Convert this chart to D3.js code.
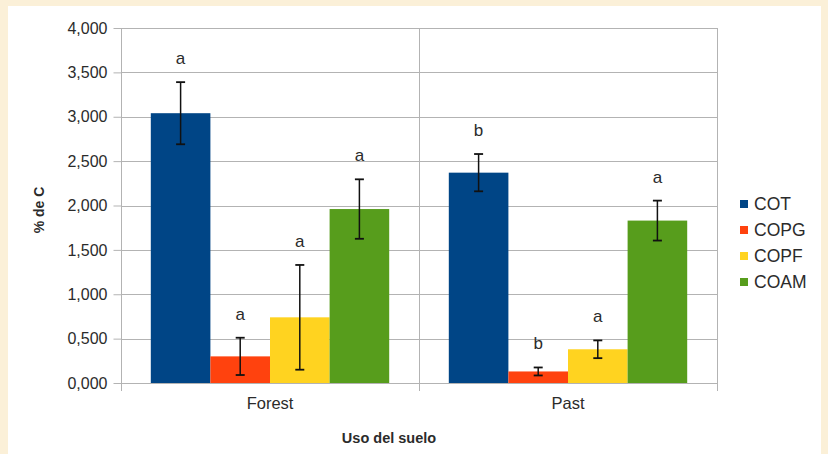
<!DOCTYPE html>
<html>
<head>
<meta charset="utf-8">
<script src="https://cdn.jsdelivr.net/npm/d3@7/dist/d3.min.js"></script>
<style>
  html, body { margin: 0; padding: 0; background: #fbf0d8; }
  svg { display: block; font-family: "Liberation Sans", Arial, sans-serif; }
</style>
</head>
<body>
<svg id="chart" width="828" height="454"></svg>
<script>
// Land use categories and carbon fractions
const categories = ["Forest", "Past"];
const series = ["COT", "COPG", "COPF", "COAM"];
const colors = ["#004586", "#ff420e", "#ffd320", "#579d1c"];

// Mean % C per category, in series order
const forestValues = [3.04, 0.30, 0.74, 1.96];
const pastValues = [2.37, 0.13, 0.38, 1.83];

// Error bar half-widths
const forestErrors = [0.35, 0.21, 0.59, 0.335];
const pastErrors = [0.21, 0.045, 0.10, 0.225];

// Significance letters
const forestLetters = ["a", "a", "a", "a"];
const pastLetters = ["b", "b", "a", "a"];

const yTicks = [0, 0.5, 1, 1.5, 2, 2.5, 3, 3.5, 4];

const rows = [
  { cat: categories[0], values: forestValues, errors: forestErrors, letters: forestLetters },
  { cat: categories[1], values: pastValues, errors: pastErrors, letters: pastLetters }
];

const svg = d3.select("#chart");
const textColor = "#2b2b2b";

// white panel
svg.append("rect").attr("x", 8).attr("y", 6).attr("width", 813).attr("height", 452)
  .attr("fill", "#ffffff");

const plot = { left: 121, right: 717, top: 28, bottom: 383 };

const x0 = d3.scaleBand().domain(categories).range([plot.left, plot.right]).paddingInner(0).paddingOuter(0);
const x1 = d3.scaleBand().domain(series).range([0, x0.bandwidth()]).paddingInner(0).paddingOuter(0.5);
const y = d3.scaleLinear().domain([0, 4]).range([plot.bottom, plot.top]);

const locale = d3.formatLocale({ decimal: ",", thousands: ".", grouping: [3], currency: ["", ""] });
const fmt = locale.format(".3f");

const gridColor = "#b3b3b3";

// horizontal grid lines
svg.append("g").selectAll("line").data(yTicks).join("line")
  .attr("x1", plot.left).attr("x2", plot.right)
  .attr("y1", d => Math.round(y(d)) + 0.5).attr("y2", d => Math.round(y(d)) + 0.5)
  .attr("stroke", gridColor).attr("stroke-width", 1);

// vertical lines at category boundaries
const bounds = categories.map(c => x0(c)).concat([plot.right]);
svg.append("g").selectAll("line").data(bounds).join("line")
  .attr("x1", d => Math.round(d) + 0.5).attr("x2", d => Math.round(d) + 0.5)
  .attr("y1", plot.top).attr("y2", plot.bottom + 8)
  .attr("stroke", gridColor).attr("stroke-width", 1);

// y axis
const yAxis = d3.axisLeft(y).tickValues(yTicks).tickFormat(fmt).tickSize(8).tickPadding(6);
const gy = svg.append("g").attr("transform", `translate(${plot.left + 0.5},0)`).call(yAxis);
gy.select(".domain").remove();
gy.selectAll(".tick line").attr("stroke", gridColor);
gy.selectAll(".tick text").attr("fill", textColor).style("font-size", "16px")
  .style("font-family", "'Liberation Sans', Arial, sans-serif");

// x axis labels
const xAxis = d3.axisBottom(x0).tickSize(0).tickPadding(14);
const gx = svg.append("g").attr("transform", `translate(0,${plot.bottom})`).call(xAxis);
gx.select(".domain").remove();
gx.selectAll(".tick text").attr("fill", textColor).style("font-size", "16.5px")
  .style("font-family", "'Liberation Sans', Arial, sans-serif");

// bars
const groups = svg.append("g").selectAll("g").data(rows).join("g")
  .attr("transform", d => `translate(${x0(d.cat)},0)`);

groups.selectAll("rect").data(d => d.values.map((v, i) => ({ s: series[i], v, i }))).join("rect")
  .attr("x", d => x1(d.s))
  .attr("width", x1.bandwidth())
  .attr("y", d => y(d.v))
  .attr("height", d => y(0) - y(d.v))
  .attr("fill", d => colors[d.i]);

// error bars
const eb = groups.selectAll("g.err").data(d => d.values.map((v, i) => ({ s: series[i], v, e: d.errors[i], l: d.letters[i] }))).join("g")
  .attr("class", "err")
  .attr("transform", d => `translate(${x1(d.s) + x1.bandwidth() / 2},0)`);

eb.append("line").attr("x1", 0).attr("x2", 0)
  .attr("y1", d => y(d.v + d.e)).attr("y2", d => y(d.v - d.e))
  .attr("stroke", "#111").attr("stroke-width", 1.5);
eb.append("line").attr("x1", -4.5).attr("x2", 4.5)
  .attr("y1", d => y(d.v + d.e)).attr("y2", d => y(d.v + d.e))
  .attr("stroke", "#111").attr("stroke-width", 1.8);
eb.append("line").attr("x1", -4.5).attr("x2", 4.5)
  .attr("y1", d => y(d.v - d.e)).attr("y2", d => y(d.v - d.e))
  .attr("stroke", "#111").attr("stroke-width", 1.8);

// significance letters
eb.append("text").attr("x", 0).attr("y", d => y(d.v + d.e) - 18)
  .attr("text-anchor", "middle").attr("fill", textColor)
  .style("font-size", "17px").text(d => d.l);

// axis titles
svg.append("text").attr("x", 389).attr("y", 443).attr("text-anchor", "middle")
  .attr("fill", textColor).style("font-size", "14.5px").style("font-weight", "bold")
  .text("Uso del suelo");

svg.append("text").attr("transform", "translate(44,210) rotate(-90)")
  .attr("text-anchor", "middle").attr("fill", textColor)
  .style("font-size", "14px").style("font-weight", "bold")
  .text("% de C");

// legend
const legend = svg.append("g").selectAll("g").data(series).join("g")
  .attr("transform", (d, i) => `translate(740,${204 + i * 26})`);
legend.append("rect").attr("x", 0).attr("y", -4).attr("width", 8).attr("height", 8)
  .attr("fill", (d, i) => colors[i]);
legend.append("text").attr("x", 14).attr("y", 6)
  .attr("fill", textColor).style("font-size", "17.5px").text(d => d);
</script>
</body>
</html>
